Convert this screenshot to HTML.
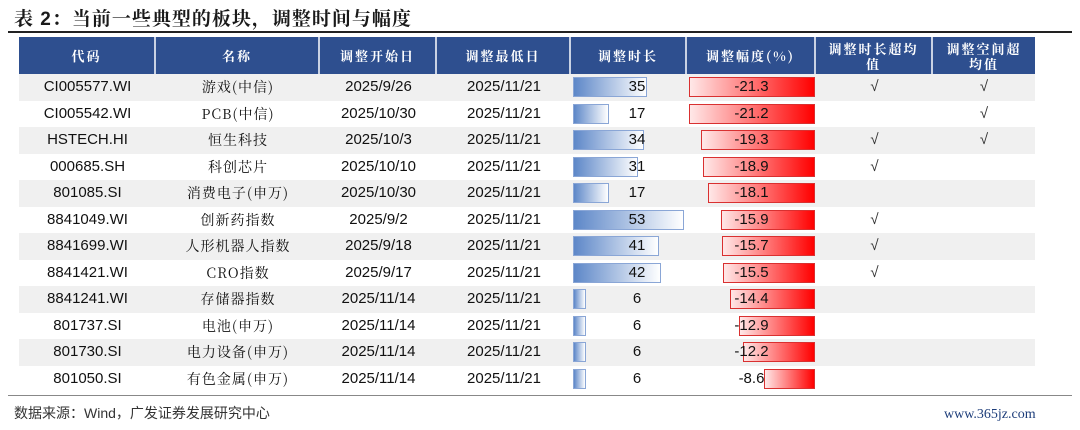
<!DOCTYPE html>
<html><head><meta charset="utf-8"><style>
body{margin:0;width:1080px;height:430px;background:#fff;position:relative;overflow:hidden;font-family:"Liberation Sans","Noto Sans CJK SC",sans-serif;}
.a{position:absolute}
.title{left:14px;top:4px;font-size:19px;font-weight:bold;color:#1a1a1a;font-family:"Liberation Sans","Noto Serif CJK SC",serif;letter-spacing:1px}
.hd{position:absolute;top:37px;height:37px;background:#2e4f8f;color:#fff;font-family:"Noto Serif CJK SC",serif;font-weight:bold;font-size:13px;display:flex;align-items:center;justify-content:center;text-align:center;line-height:15px;letter-spacing:2px;border-right:2px solid #c9d2e4;box-sizing:border-box}
.row{position:absolute;left:19px;width:1016px;height:26.5px}
.c{position:absolute;top:0;height:26.5px;line-height:26.5px;text-align:center;font-size:15px;color:#111}
.cn{font-family:"Noto Serif CJK SC","Liberation Sans",serif;font-size:14px;letter-spacing:1px}
.bb{position:absolute;top:3px;height:20px;box-sizing:border-box;border:1px solid #8aa6d6;background:linear-gradient(to right,#5d87c8,#fff)}
.rb{position:absolute;top:3px;height:20px;box-sizing:border-box;border:1px solid #d93030;background:linear-gradient(to right,#ffe8e8,#ff0000)}
</style></head><body>
<div class="a title">表 2：当前一些典型的板块，调整时间与幅度</div>
<div class="a" style="left:8px;top:31px;width:1064px;height:2px;background:#222"></div>
<div class="hd" style="left:19px;width:137px">代码</div>
<div class="hd" style="left:156px;width:164px">名称</div>
<div class="hd" style="left:320px;width:117px">调整开始日</div>
<div class="hd" style="left:437px;width:134px">调整最低日</div>
<div class="hd" style="left:571px;width:116px">调整时长</div>
<div class="hd" style="left:687px;width:129px">调整幅度(%)</div>
<div class="hd" style="left:816px;width:117px">调整时长超均<br>值</div>
<div class="hd" style="left:933px;width:102px;border-right:none">调整空间超<br>均值</div>
<div id="rows"></div>
<div class="a" style="left:8px;top:395px;width:1064px;height:1px;background:#888"></div>
<div class="a" style="left:14px;top:403px;font-size:14px;color:#333">数据来源：Wind，广发证券发展研究中心</div>
<div class="a" style="left:944px;top:407px;font-size:14px;color:#1d3d7a;font-family:'Liberation Serif',serif">www.365jz.com</div>
<script>
var d=[["CI005577.WI","游戏(中信)","2025/9/26",35,21.3,1,1],["CI005542.WI","PCB(中信)","2025/10/30",17,21.2,0,1],["HSTECH.HI","恒生科技","2025/10/3",34,19.3,1,1],["000685.SH","科创芯片","2025/10/10",31,18.9,1,0],["801085.SI","消费电子(申万)","2025/10/30",17,18.1,0,0],["8841049.WI","创新药指数","2025/9/2",53,15.9,1,0],["8841699.WI","人形机器人指数","2025/9/18",41,15.7,1,0],["8841421.WI","CRO指数","2025/9/17",42,15.5,1,0],["8841241.WI","存储器指数","2025/11/14",6,14.4,0,0],["801737.SI","电池(申万)","2025/11/14",6,12.9,0,0],["801730.SI","电力设备(申万)","2025/11/14",6,12.2,0,0],["801050.SI","有色金属(申万)","2025/11/14",6,8.6,0,0]];
var h="";
d.forEach(function(r,i){
var t=74+i*26.5,bg=i%2==0?"#f0f0f0":"#fff";
h+='<div class="row" style="top:'+t+'px;background:'+bg+'">';
h+='<div class="c" style="left:0;width:137px">'+r[0]+'</div>';
h+='<div class="c cn" style="left:137px;width:164px">'+r[1]+'</div>';
h+='<div class="c" style="left:301px;width:117px">'+r[2]+'</div>';
h+='<div class="c" style="left:418px;width:134px">2025/11/21</div>';
h+='<div class="bb" style="left:554px;width:'+(r[3]*2.1)+'px"></div>';
h+='<div class="c" style="left:555px;width:116px;padding-left:10px;box-sizing:border-box">'+r[3]+'</div>';
var w=r[4]*5.93;
h+='<div class="rb" style="left:'+(796-w)+'px;width:'+w+'px"></div>';
h+='<div class="c" style="left:668px;width:129px">-'+r[4].toFixed(1)+'</div>';
h+='<div class="c" style="left:797px;width:117px;color:#333">'+(r[5]?'√':'')+'</div>';
h+='<div class="c" style="left:914px;width:102px;color:#333">'+(r[6]?'√':'')+'</div>';
h+='</div>';});
document.getElementById("rows").innerHTML=h;
</script>
</body></html>
